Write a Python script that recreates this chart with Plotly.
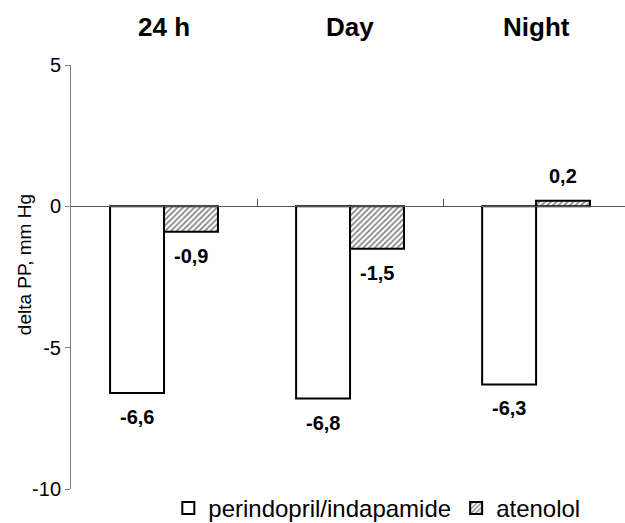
import plotly.graph_objects as go

categories = ["24 h", "Day", "Night"]
perindopril = [-6.6, -6.8, -6.3]
atenolol = [-0.9, -1.5, 0.2]
series_names = ["perindopril/indapamide", "atenolol"]
y_ticks = [-10, -5, 0, 5]
y_ticktext = ["-10", "-5", "0", "5"]

FONT = "Liberation Sans, Arial, sans-serif"

def fmt(v):
    return f"{v:.1f}".replace(".", ",")

fig = go.Figure()
fig.add_trace(go.Bar(
    x=categories, y=perindopril, name=series_names[0],
    marker=dict(color="white", line=dict(color="black", width=2)),
))
fig.add_trace(go.Bar(
    x=categories, y=atenolol, name=series_names[1],
    marker=dict(color="white", line=dict(color="black", width=2),
                pattern=dict(shape="/", fgcolor="black", bgcolor="white",
                             size=4, solidity=0.4)),
))

annotations = []
# category titles on top
for c in categories:
    annotations.append(dict(x=c, xref="x", y=1.089, yref="paper", text=f"<b>{c}</b>",
                            showarrow=False, font=dict(family=FONT, size=26, color="black"),
                            xanchor="center", yanchor="middle"))
# value labels
for series, shift in ((perindopril, -27), (atenolol, 27)):
    for c, v in zip(categories, series):
        annotations.append(dict(x=c, xref="x", y=v, yref="y", text=f"<b>{fmt(v)}</b>",
                                showarrow=False, xshift=shift,
                                yshift=(-24 if v < 0 else 25),
                                font=dict(family=FONT, size=20, color="black"),
                                xanchor="center", yanchor="middle"))
# y axis title
annotations.append(dict(x=-0.085, xref="paper", y=0.53, yref="paper",
                        text="delta PP, mm Hg", textangle=-90, showarrow=False,
                        font=dict(family=FONT, size=19, color="black"),
                        xanchor="center", yanchor="middle"))

fig.update_layout(
    width=625, height=531,
    margin=dict(l=71, r=0, t=65, b=33),
    paper_bgcolor="white", plot_bgcolor="white",
    barmode="group", bargap=0.42, bargroupgap=0,
    showlegend=True,
    legend=dict(orientation="h", x=0.552, xanchor="center", y=-0.047, yanchor="middle",
                font=dict(family=FONT, size=24, color="black"),
                bgcolor="rgba(0,0,0,0)", traceorder="normal"),
    font=dict(family=FONT, color="black"),
    annotations=annotations,
    xaxis=dict(type="category", range=[-0.5, 2.478], anchor="free", position=2/3,
               showline=True, linecolor="#555555", linewidth=1,
               ticks="inside", tickson="boundaries", ticklen=7, tickcolor="#555555",
               showticklabels=False, showgrid=False, zeroline=False, fixedrange=True),
    yaxis=dict(range=[-10, 5], tickvals=y_ticks, ticktext=y_ticktext,
               showline=True, linecolor="#808080", linewidth=1,
               ticks="outside", ticklen=5, tickcolor="#808080",
               tickfont=dict(family=FONT, size=20, color="black"),
               showgrid=False, zeroline=False, fixedrange=True),
)

fig.write_html(
    "out.html",
    config={"displayModeBar": False, "staticPlot": True},
    post_script=(
        "document.body.style.margin='0';"
        "document.body.style.overflow='hidden';"
        "document.documentElement.style.overflow='hidden';"
    ),
)
